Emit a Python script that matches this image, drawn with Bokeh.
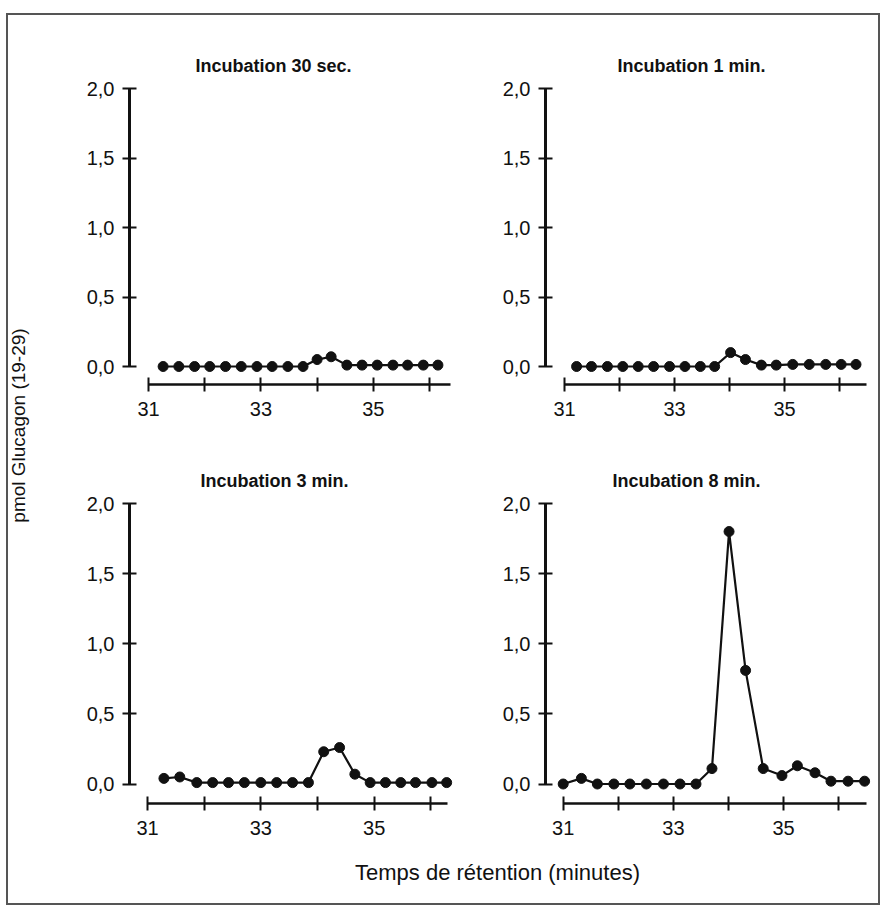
from math import pi
from bokeh.plotting import figure
from bokeh.layouts import column, row
from bokeh.models import FixedTicker, Label, CustomJSTickFormatter
from bokeh.embed import file_html
from bokeh.resources import INLINE

# ---- data (retention time in minutes, pmol glucagon 19-29) ----
titles = ["Incubation 30 sec.", "Incubation 1 min.", "Incubation 3 min.", "Incubation 8 min."]

x_30s = [31.26, 31.54, 31.82, 32.09, 32.37, 32.65, 32.93, 33.20, 33.48, 33.75,
         34.00, 34.25, 34.53, 34.80, 35.07, 35.35, 35.61, 35.89, 36.15]
y_30s = [0.0, 0.0, 0.0, 0.0, 0.0, 0.0, 0.0, 0.0, 0.0, 0.0,
         0.05, 0.07, 0.01, 0.01, 0.01, 0.01, 0.01, 0.01, 0.01]

x_1m = [31.22, 31.49, 31.78, 32.06, 32.34, 32.62, 32.91, 33.19, 33.47, 33.73,
        34.02, 34.29, 34.58, 34.85, 35.15, 35.45, 35.75, 36.03, 36.30]
y_1m = [0.0, 0.0, 0.0, 0.0, 0.0, 0.0, 0.0, 0.0, 0.0, 0.0,
        0.10, 0.05, 0.01, 0.01, 0.015, 0.015, 0.015, 0.015, 0.015]

x_3m = [31.29, 31.57, 31.87, 32.15, 32.43, 32.71, 33.00, 33.28, 33.56, 33.84,
        34.11, 34.39, 34.66, 34.93, 35.20, 35.47, 35.73, 36.02, 36.28]
y_3m = [0.04, 0.05, 0.01, 0.01, 0.01, 0.01, 0.01, 0.01, 0.01, 0.01,
        0.23, 0.26, 0.07, 0.01, 0.01, 0.01, 0.01, 0.01, 0.01]

x_8m = [31.00, 31.33, 31.62, 31.92, 32.21, 32.51, 32.82, 33.12, 33.41, 33.70,
        34.01, 34.31, 34.63, 34.97, 35.25, 35.57, 35.86, 36.17, 36.47]
y_8m = [0.0, 0.04, 0.0, 0.0, 0.0, 0.0, 0.0, 0.0, 0.0, 0.11,
        1.80, 0.81, 0.11, 0.06, 0.13, 0.08, 0.02, 0.02, 0.02]

y_ticks = [0, 0.5, 1.0, 1.5, 2.0]
x_major = [31, 33, 35]
x_minor = [32, 34, 36]

y_label = "pmol Glucagon (19-29)"
x_label = "Temps de rétention (minutes)"

FONT = "Liberation Sans"
INK = "#111111"


def panel(title, xs, ys, xr, yr, xb_end, width, mbl, mbr, height, mbt, mbb, toff):
    p = figure(width=width, height=height, x_range=xr, y_range=yr,
               output_backend="svg", toolbar_location=None,
               min_border_left=mbl, min_border_right=mbr,
               min_border_top=mbt, min_border_bottom=mbb)
    p.outline_line_color = None
    p.grid.visible = False
    p.background_fill_color = "white"
    p.border_fill_color = "white"

    p.title.text = title
    p.title.align = "left"
    p.title.offset = toff
    p.title.text_font = FONT
    p.title.text_font_size = "18px"
    p.title.text_font_style = "bold"
    p.title.text_color = INK
    p.title.standoff = 10

    ya = p.yaxis[0]
    ya.ticker = FixedTicker(ticks=y_ticks)
    ya.formatter = CustomJSTickFormatter(code="return tick.toFixed(1).replace('.', ',');")
    ya.bounds = (0, 2)
    ya.axis_line_width = 3
    ya.axis_line_color = INK
    ya.major_tick_line_width = 2
    ya.major_tick_line_color = INK
    ya.major_tick_in = 7
    ya.major_tick_out = 7
    ya.minor_tick_line_color = None
    ya.major_label_standoff = 8
    ya.major_label_text_font = FONT
    ya.major_label_text_font_size = "20px"
    ya.major_label_text_color = INK

    xa = p.xaxis[0]
    xa.ticker = FixedTicker(ticks=x_major, minor_ticks=x_minor)
    xa.bounds = (31, xb_end)
    xa.axis_line_width = 2.5
    xa.axis_line_color = INK
    xa.major_tick_line_width = 2
    xa.major_tick_line_color = INK
    xa.major_tick_in = 7
    xa.major_tick_out = 7
    xa.minor_tick_line_width = 2
    xa.minor_tick_line_color = INK
    xa.minor_tick_in = 7
    xa.minor_tick_out = 7
    xa.major_label_standoff = 10
    xa.major_label_text_font = FONT
    xa.major_label_text_font_size = "20px"
    xa.major_label_text_color = INK

    p.line(xs, ys, line_color=INK, line_width=2.2)
    p.scatter(xs, ys, size=10, fill_color=INK, line_color=INK)
    return p


# top row: frame 80..384 px, 0 at 366, 139 px/unit
top_yr = (-18 / 139.0, 2 + 8 / 139.0)
bot_yr = (-19.5 / 140.25, 2 + 8 / 140.25)

tl = panel(titles[0], x_30s, y_30s, (31 - 19 / 56.2, 31 - 19 / 56.2 + 326 / 56.2), top_yr, 36.37,
           420, 91, 3, 415, 65, 46, 66)
tr = panel(titles[1], x_1m, y_1m, (31 - 19 / 55.0, 31 - 19 / 55.0 + 326 / 55.0), top_yr, 36.49,
           420, 87, 7, 415, 65, 46, 72)
bl = panel(titles[2], x_3m, y_3m, (31 - 18 / 56.66, 31 - 18 / 56.66 + 326 / 56.66), bot_yr, 36.3,
           420, 91, 3, 420, 65, 47, 71)
br = panel(titles[3], x_8m, y_8m, (31 - 17.7 / 55.1, 31 - 17.7 / 55.1 + 326 / 55.1), bot_yr, 36.5,
           420, 87, 7, 420, 65, 47, 67)

# y label strip
yl = figure(width=30, height=835, x_range=(0, 30), y_range=(0, 835),
            output_backend="svg", toolbar_location=None,
            x_axis_location=None, y_axis_location=None, min_border=0)
yl.outline_line_color = None
yl.grid.visible = False
yl.add_layout(Label(x=10, y=425, text=y_label, angle=pi / 2, text_align="center",
                    text_baseline="middle", text_font=FONT, text_font_size="19px",
                    text_color=INK))

# x label strip
xl = figure(width=870, height=53, x_range=(0, 870), y_range=(0, 53),
            output_backend="svg", toolbar_location=None,
            x_axis_location=None, y_axis_location=None, min_border=0)
xl.outline_line_color = None
xl.grid.visible = False
xl.add_layout(Label(x=489, y=31, text=x_label, text_align="center",
                    text_baseline="middle", text_font=FONT, text_font_size="22px",
                    text_color=INK))

grid = column(row(tl, tr), row(bl, br))
body = column(row(yl, grid), xl,
              styles={"border": "2px solid #555555", "background-color": "white"},
              margin=(13, 0, 0, 6))

open("out.html", "w").write(file_html(body, INLINE))
